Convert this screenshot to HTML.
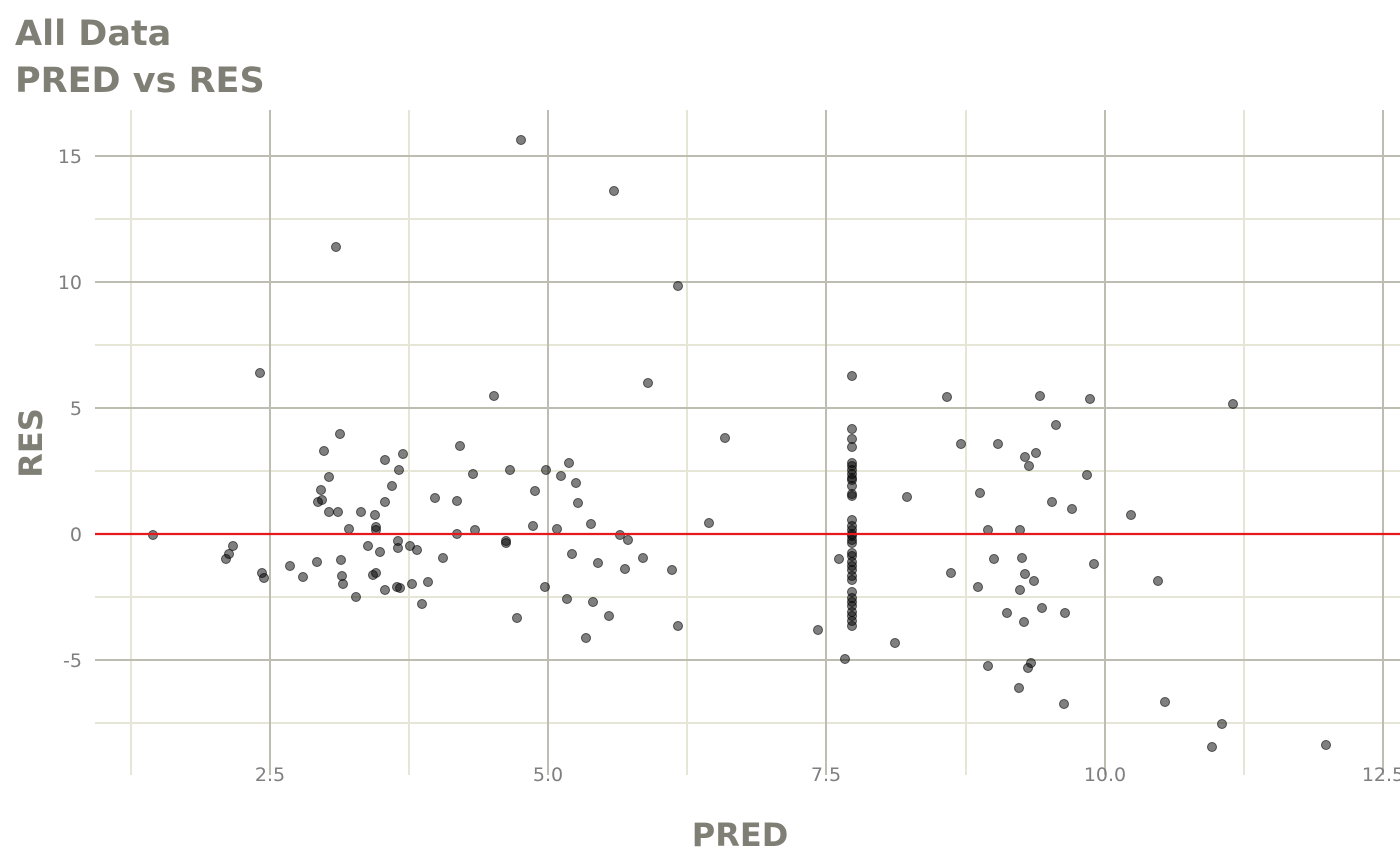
<!DOCTYPE html>
<html><head><meta charset="utf-8"><style>
html,body{margin:0;padding:0;background:#fff;}
svg{display:block;font-family:"DejaVu Sans","Liberation Sans",sans-serif;}
</style></head><body>
<svg width="1400" height="865" viewBox="0 0 1400 865">
<g stroke="#e6e6d6" stroke-width="2">
<line x1="131" y1="110" x2="131" y2="775"/><line x1="409" y1="110" x2="409" y2="775"/><line x1="687" y1="110" x2="687" y2="775"/><line x1="966" y1="110" x2="966" y2="775"/><line x1="1244" y1="110" x2="1244" y2="775"/>
<line x1="95" y1="219" x2="1400" y2="219"/><line x1="95" y1="345" x2="1400" y2="345"/><line x1="95" y1="471" x2="1400" y2="471"/><line x1="95" y1="597" x2="1400" y2="597"/><line x1="95" y1="723" x2="1400" y2="723"/>
</g>
<g stroke="#bdbdb1" stroke-width="2">
<line x1="270" y1="110" x2="270" y2="775"/><line x1="548" y1="110" x2="548" y2="775"/><line x1="826" y1="110" x2="826" y2="775"/><line x1="1105" y1="110" x2="1105" y2="775"/><line x1="1383" y1="110" x2="1383" y2="775"/>
<line x1="95" y1="156" x2="1400" y2="156"/><line x1="95" y1="282" x2="1400" y2="282"/><line x1="95" y1="408" x2="1400" y2="408"/><line x1="95" y1="534" x2="1400" y2="534"/><line x1="95" y1="660" x2="1400" y2="660"/>
</g>
<g fill="#7f7f7f" font-size="19" text-anchor="end">
<text x="82" y="163">15</text><text x="82" y="289">10</text><text x="82" y="415">5</text><text x="82" y="541">0</text><text x="82" y="667">-5</text>
</g>
<g fill="#7f7f7f" font-size="19" text-anchor="middle">
<text x="270" y="781">2.5</text><text x="548" y="781">5.0</text><text x="826" y="781">7.5</text><text x="1105" y="781">10.0</text><text x="1383" y="781">12.5</text>
</g>
<text x="15" y="45" font-size="35" font-weight="bold" fill="#7f7f75">All Data</text>
<text x="15" y="92" font-size="35" font-weight="bold" fill="#7f7f75">PRED vs RES</text>
<text x="740" y="846" font-size="32" font-weight="bold" fill="#7f7f75" text-anchor="middle">PRED</text>
<text transform="translate(42,443) rotate(-90)" font-size="32" font-weight="bold" fill="#7f7f75" text-anchor="middle">RES</text>
<g id="pts" fill="rgba(0,0,0,0.5)" stroke="rgba(0,0,0,0.6)" stroke-width="1"></g>
<line x1="95" y1="534" x2="1400" y2="534" stroke="#e41a1c" stroke-width="2.2"/>
</svg>
<script>
var p=[[153,535],[226,559],[229,554],[233,546],[260,373],[262,573],[264,578],[290,566],[303,577],[317,562],[318,502],[321,490],[322,500],[324,451],[329,477],[329,512],[336,247],[338,512],[340,434],[341,560],[342,576],[343,584],[349,529],[361,512],[356,597],[368,546],[373,575],[375,515],[376,573],[376,527],[376,530],[380,552],[385,460],[385,590],[385,502],[392,486],[397,587],[398,541],[398,548],[399,470],[400,588],[403,454],[410,546],[412,584],[417,550],[422,604],[428,582],[435,498],[443,558],[457,501],[457,534],[460,446],[473,474],[475,530],[494,396],[506,541],[506,543],[510,470],[517,618],[521,140],[533,526],[535,491],[545,587],[546,470],[557,529],[561,476],[567,599],[569,463],[572,554],[576,483],[578,503],[586,638],[591,524],[593,602],[598,563],[609,616],[614,191],[620,535],[625,569],[628,540],[643,558],[648,383],[672,570],[678,626],[678,286],[709,523],[725,438],[818,630],[839,559],[845,659],[895,643],[907,497],[947,397],[951,573],[961,444],[978,587],[980,493],[988,666],[988,530],[994,559],[998,444],[1007,613],[1019,688],[1020,590],[1020,530],[1022,558],[1024,622],[1025,457],[1025,574],[1029,466],[1028,668],[1031,663],[1034,581],[1036,453],[1040,396],[1042,608],[1052,502],[1056,425],[1064,704],[1065,613],[1072,509],[1087,475],[1090,399],[1094,564],[1131,515],[1158,581],[1165,702],[1212,747],[1222,724],[1233,404],[1326,745]];
[376,429,439,447,463,466,470,474,478,480,486,494,496,520,526,530,534,536,540,543,553,556,562,566,570,576,580,592,598,602,606,612,616,621,626].forEach(function(y){p.push([852,y]);});
var g=document.getElementById('pts'),s='';
p.forEach(function(q){s+='<circle cx="'+q[0]+'" cy="'+q[1]+'" r="4.5"/>';});
g.innerHTML=s;
</script>
</body></html>
